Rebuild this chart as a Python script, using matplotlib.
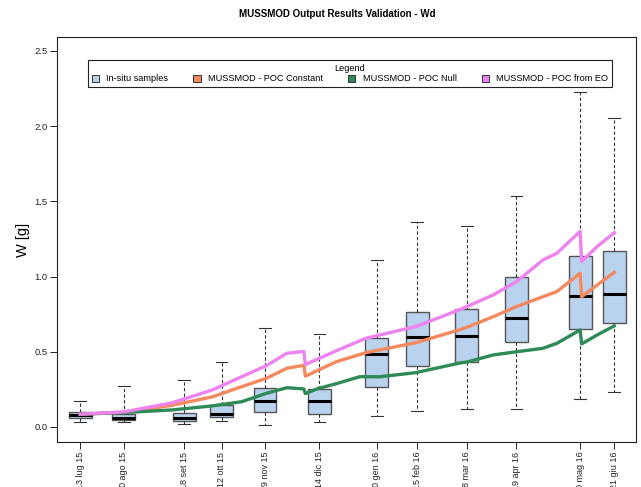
import matplotlib
matplotlib.use("Agg")
import matplotlib.pyplot as plt
import matplotlib.dates as mdates
from matplotlib.patches import Patch
import pandas as pd

plt.rcParams['font.family'] = ['Liberation Sans', 'DejaVu Sans']

# ---- data ----
sample_dates = ["2015-07-13", "2015-08-10", "2015-09-18", "2015-10-12", "2015-11-09", "2015-12-14",
                "2016-01-20", "2016-02-15", "2016-03-18", "2016-04-19", "2016-05-30", "2016-06-21"]
tick_labels = ["13 lug 15", "10 ago 15", "18 set 15", "12 ott 15", "09 nov 15", "14 dic 15",
               "20 gen 16", "15 feb 16", "18 mar 16", "19 apr 16", "30 mag 16", "21 giu 16"]
box_whislo = [0.030, 0.030, 0.020, 0.040, 0.010, 0.030, 0.073, 0.109, 0.117, 0.117, 0.188, 0.235]
box_q1 = [0.060, 0.045, 0.038, 0.064, 0.098, 0.088, 0.266, 0.408, 0.434, 0.563, 0.650, 0.690]
box_med = [0.082, 0.062, 0.062, 0.088, 0.173, 0.173, 0.483, 0.598, 0.607, 0.723, 0.873, 0.884]
box_q3 = [0.098, 0.084, 0.091, 0.146, 0.259, 0.250, 0.590, 0.765, 0.787, 0.995, 1.135, 1.172]
box_whishi = [0.170, 0.270, 0.310, 0.434, 0.660, 0.616, 1.108, 1.361, 1.339, 1.538, 2.230, 2.057]

eo_dates = ["2015-07-13", "2015-08-10", "2015-09-10", "2015-10-06", "2015-10-25", "2015-11-10",
            "2015-11-23", "2015-12-04", "2015-12-05", "2015-12-25", "2016-01-13", "2016-02-14",
            "2016-03-13", "2016-03-19", "2016-04-04", "2016-04-19", "2016-05-06", "2016-05-15",
            "2016-05-30", "2016-05-31", "2016-06-10", "2016-06-21"]
eo_vals = [0.085, 0.100, 0.160, 0.246, 0.334, 0.408, 0.490, 0.502, 0.415, 0.507, 0.590, 0.667,
           0.778, 0.805, 0.878, 0.966, 1.110, 1.155, 1.300, 1.100, 1.200, 1.292]

const_dates = eo_dates
const_vals = [0.085, 0.098, 0.144, 0.200, 0.268, 0.324, 0.390, 0.410, 0.338, 0.434, 0.494, 0.560,
              0.645, 0.667, 0.733, 0.800, 0.866, 0.900, 1.022, 0.866, 0.944, 1.028]

null_dates = ["2015-07-13", "2015-08-10", "2015-09-10", "2015-10-06", "2015-10-25", "2015-11-10",
              "2015-11-23", "2015-12-04", "2015-12-05", "2015-12-13", "2015-12-25", "2016-01-09",
              "2016-01-22", "2016-02-14", "2016-03-13", "2016-03-19", "2016-04-04", "2016-04-19",
              "2016-05-06", "2016-05-15", "2016-05-30", "2016-05-31", "2016-06-10", "2016-06-21"]
null_vals = [0.085, 0.096, 0.113, 0.140, 0.168, 0.224, 0.261, 0.253, 0.222, 0.255, 0.288, 0.334,
             0.334, 0.361, 0.424, 0.434, 0.479, 0.500, 0.523, 0.556, 0.645, 0.552, 0.612, 0.672]

legend_labels = ["In-situ samples", "MUSSMOD - POC Constant", "MUSSMOD - POC Null", "MUSSMOD - POC from EO"]
yticks = [0.0, 0.5, 1.0, 1.5, 2.0, 2.5]

# ---- styles ----
box_color = "#B9D3EE"
c_const = "#F4895F"
c_null = "#2E8B57"
c_eo = "#EE82EE"


def to_num(ds):
    return mdates.date2num(pd.to_datetime(ds).to_pydatetime())


fig = plt.figure(figsize=(6.41, 4.87), dpi=100)
ax = fig.add_axes([57 / 641, 1 - 442 / 487, (636 - 57) / 641, (442 - 37) / 487])

pos = to_num(sample_dates)
stats = []
for i in range(len(sample_dates)):
    stats.append(dict(med=box_med[i], q1=box_q1[i], q3=box_q3[i],
                      whislo=box_whislo[i], whishi=box_whishi[i], fliers=[]))
ax.bxp(stats, positions=pos, widths=14.8, patch_artist=True, manage_ticks=False,
       boxprops=dict(facecolor=box_color, edgecolor="#555555", linewidth=1.0),
       medianprops=dict(color="black", linewidth=2.2),
       whiskerprops=dict(color="#333333", linewidth=0.8, linestyle=(0, (3, 2))),
       capprops=dict(color="#333333", linewidth=0.8),
       capwidths=7.5, zorder=2)

ax.plot(to_num(const_dates), const_vals, color=c_const, lw=2.4, zorder=3, solid_joinstyle="round")
ax.plot(to_num(null_dates), null_vals, color=c_null, lw=2.4, zorder=3, solid_joinstyle="round")
ax.plot(to_num(eo_dates), eo_vals, color=c_eo, lw=2.4, zorder=3, solid_joinstyle="round")

ax.set_xlim(to_num(["2015-06-28"])[0], to_num(["2016-07-05"])[0])
ax.set_ylim(-0.1, 2.593)
ax.set_yticks(yticks)
ax.set_yticklabels([f"{v:.1f}" for v in yticks], fontsize=6.8)
ax.set_xticks(pos)
ax.set_xticklabels(tick_labels, rotation=90, fontsize=6.5)
ax.tick_params(axis="both", direction="out", length=5, width=0.7, pad=2, colors="#222222")
for s in ax.spines.values():
    s.set_linewidth(0.8)
    s.set_color("#222222")

ax.set_ylabel("W [g]", fontsize=10.5)
ax.yaxis.set_label_coords(-0.047, 0.5)

fig.text(337 / 641, 1 - 14 / 487, "MUSSMOD Output Results Validation - Wd",
         ha="center", va="center", fontsize=7, fontweight="bold")

handles = [Patch(facecolor=box_color, edgecolor="#333333", lw=0.7),
           Patch(facecolor=c_const, edgecolor="#333333", lw=0.7),
           Patch(facecolor=c_null, edgecolor="#333333", lw=0.7),
           Patch(facecolor=c_eo, edgecolor="#333333", lw=0.7)]
x0 = (88 - 57) / (636 - 57)
x1 = (612 - 57) / (636 - 57)
y_top = (442 - 55) / (442 - 37)
y_bot = (442 - 87) / (442 - 37)
leg = ax.legend(handles, legend_labels, ncol=4, mode="expand", title="Legend",
                bbox_to_anchor=(x0, y_bot, x1 - x0, y_top - y_bot), loc="lower left",
                fontsize=6.6, title_fontsize=6.6, fancybox=False, framealpha=1,
                edgecolor="#222222", handlelength=0.8, handleheight=0.8, handletextpad=0.8,
                borderpad=0.4, labelspacing=0.2, borderaxespad=0)
leg.get_frame().set_linewidth(0.8)

fig.savefig("out.png", dpi=100)
